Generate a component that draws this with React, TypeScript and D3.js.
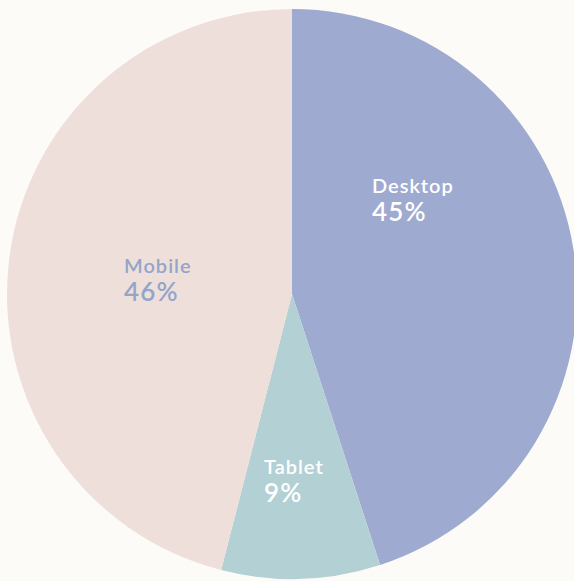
import React from "react";
import * as d3 from "d3";

const categories = ["Desktop", "Tablet", "Mobile"];
const shares = [45, 9, 46];
const sliceColors = ["#9eaacf", "#b3d0d4", "#efdfda"];
const labelColors = ["#ffffff", "#ffffff", "#93a5c9"];
// label anchor (relative to pie center), layout only
const labelOffsets: [number, number][] = [
  [80, -101],
  [-28, 180],
  [-168, -21],
];

const W = 574;
const H = 581;
const cx = 292;
const cy = 294;
const R = 285;

export default function App() {
  const pie = d3
    .pie<number>()
    .sort(null)
    .value((d) => d);
  const arcs = pie(shares);
  const arc = d3.arc<d3.PieArcDatum<number>>().innerRadius(0).outerRadius(R);

  return (
    <div style={{ position: "fixed", left: 0, top: 0, width: W, height: H, background: "#fdfbf7" }}>
      <svg width={W} height={H} style={{ display: "block" }}>
        <rect x={0} y={0} width={W} height={H} fill="#fdfbf7" />
        <g transform={`translate(${cx},${cy})`}>
          {arcs.map((a, i) => (
            <path key={categories[i]} d={arc(a) || ""} fill={sliceColors[i]} />
          ))}
          {arcs.map((a, i) => (
            <g
              key={"l" + categories[i]}
              transform={`translate(${labelOffsets[i][0]},${labelOffsets[i][1]})`}
              fill={labelColors[i]}
              fontFamily="Lato, 'Open Sans', sans-serif"
              fontWeight={600}
            >
              <text x={0} y={0} fontSize={20} letterSpacing={1}>
                {categories[i]}
              </text>
              <text x={0} y={28} fontSize={26} letterSpacing={1.2}>
                {`${shares[i]}%`}
              </text>
            </g>
          ))}
        </g>
      </svg>
    </div>
  );
}
